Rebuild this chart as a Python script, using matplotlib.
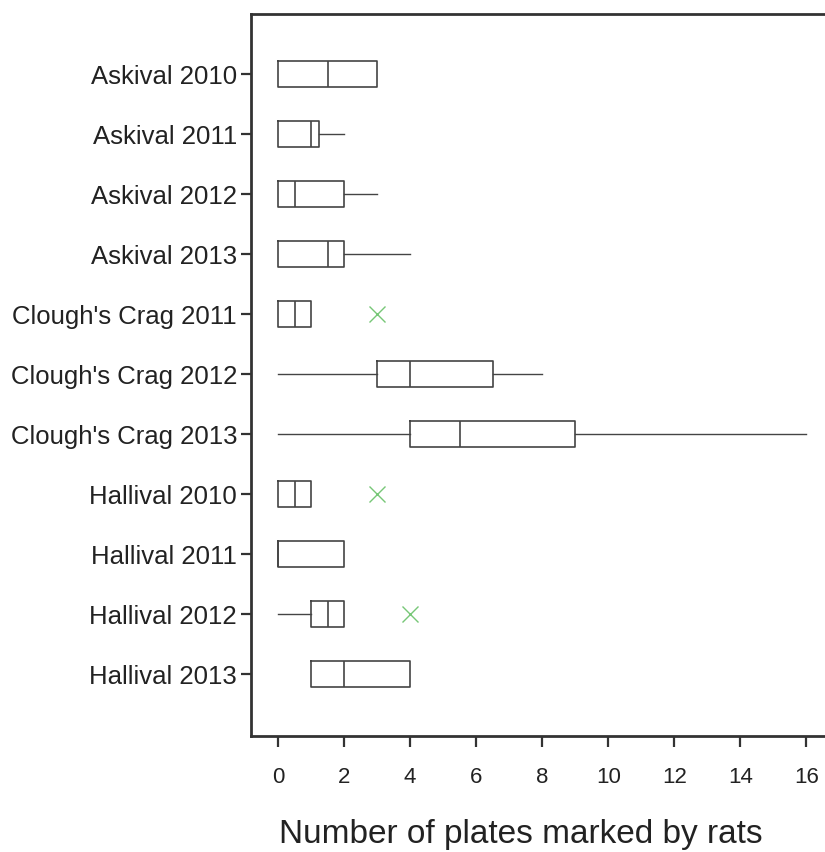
import matplotlib
matplotlib.use("Agg")
import matplotlib.pyplot as plt

plt.rcParams['font.family'] = ['Liberation Sans', 'DejaVu Sans']

# one row per site/year, top to bottom
labels = ["Askival 2010", "Askival 2011", "Askival 2012", "Askival 2013",
          "Clough's Crag 2011", "Clough's Crag 2012", "Clough's Crag 2013",
          "Hallival 2010", "Hallival 2011", "Hallival 2012", "Hallival 2013"]
whislo = [0, 0, 0, 0, 0, 0, 0, 0, 0, 0, 1]
q1     = [0, 0, 0, 0, 0, 3, 4, 0, 0, 1, 1]
med    = [1.5, 1.0, 0.5, 1.5, 0.5, 4, 5.5, 0.5, 0, 1.5, 2]
q3     = [3, 1.25, 2, 2, 1, 6.5, 9, 1, 2, 2, 4]
whishi = [3, 2, 3, 4, 1, 8, 16, 1, 2, 2, 4]
fliers = [[], [], [], [], [3], [], [], [3], [], [4], []]

stats = []
for i, lab in enumerate(labels):
    stats.append(dict(label=lab, whislo=whislo[i], q1=q1[i], med=med[i],
                      q3=q3[i], whishi=whishi[i], fliers=fliers[i]))

fig = plt.figure(figsize=(8.25, 8.52), dpi=100)
ax = fig.add_axes([251 / 825, 1 - 736 / 852, 595 / 825, (736 - 14) / 852])

line_col = '#444444'
ax.bxp(stats, positions=range(1, len(labels) + 1), vert=False, widths=0.43,
       showcaps=False,
       boxprops=dict(color=line_col, linewidth=1.2),
       whiskerprops=dict(color=line_col, linewidth=1.0),
       medianprops=dict(color=line_col, linewidth=1.2),
       flierprops=dict(marker='x', markeredgecolor='#77c777', markersize=11,
                       markeredgewidth=1.0, linestyle='none'))

ax.set_xlim(-0.82, 17.2)
ax.set_ylim(12.03, 0)
ax.set_xticks(range(0, 17, 2))
ax.set_yticks(range(1, len(labels) + 1))
ax.set_yticklabels(labels)

for side in ['left', 'bottom', 'top']:
    ax.spines[side].set_linewidth(2)
    ax.spines[side].set_color('#333333')
ax.spines['right'].set_visible(False)

ax.tick_params(axis='y', length=7, width=1.6, color='#333333', pad=3,
               labelsize=18.5, labelcolor='#222222')
ax.tick_params(axis='x', length=8, width=1.6, color='#333333', pad=14,
               labelsize=16, labelcolor='#222222')
ax.set_xlabel('Number of plates marked by rats', fontsize=24,
              color='#222222', labelpad=23)
ax.xaxis.label.set_x(0.454)

fig.savefig('out.png', dpi=100, facecolor='white')
